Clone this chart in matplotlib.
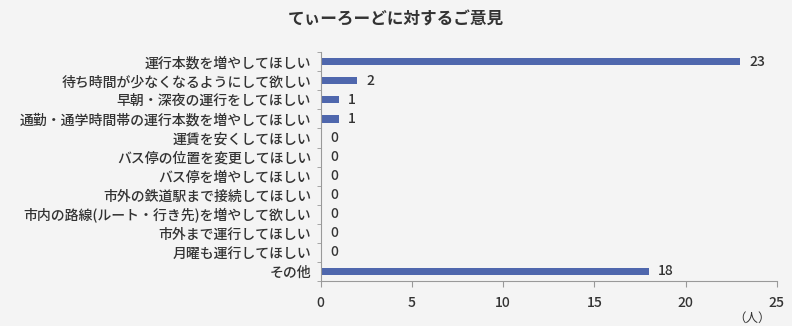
import matplotlib
matplotlib.use('Agg')
import matplotlib.pyplot as plt
import numpy as np

plt.rcParams['font.family'] = ['Noto Sans CJK JP', 'DejaVu Sans']

categories = ['運行本数を増やしてほしい', '待ち時間が少なくなるようにして欲しい', '早朝・深夜の運行をしてほしい',
              '通勤・通学時間帯の運行本数を増やしてほしい', '運賃を安くしてほしい', 'バス停の位置を変更してほしい',
              'バス停を増やしてほしい', '市外の鉄道駅まで接続してほしい', '市内の路線(ルート・行き先)を増やして欲しい',
              '市外まで運行してほしい', '月曜も運行してほしい', 'その他']
values = [23, 2, 1, 1, 0, 0, 0, 0, 0, 0, 0, 18]
xticks = [0, 5, 10, 15, 20, 25]
title = 'てぃーろーどに対するご意見'

fig = plt.figure(figsize=(7.92, 3.26), dpi=100, facecolor='#f4f4f4')
ax = fig.add_axes([0.405, 0.138, 0.576, 0.702])
ax.set_facecolor('none')

y = np.arange(len(categories))
ax.barh(y, values, height=0.38, color='#4f67ad')
for yi, v in zip(y, values):
    ax.text(v + 0.5, yi, str(v), va='center', ha='left', fontsize=10, color='#333333', fontweight='medium')

ax.set_xlim(0, 25)
ax.set_ylim(len(categories) - 0.5, -0.5)
ax.set_yticks(y)
ax.set_yticklabels(categories, fontsize=10, color='#333333', fontweight='medium')
ax.set_yticks(np.arange(-0.5, len(categories)), minor=True)
ax.tick_params(axis='y', which='major', length=0, pad=7)
ax.tick_params(axis='y', which='minor', length=3, color='#999999')
ax.set_xticks(xticks)
ax.set_xticklabels([str(t) for t in xticks], fontsize=10, color='#333333', fontweight='medium')
ax.tick_params(axis='x', length=4, color='#999999', pad=7)

for s in ['top', 'right']:
    ax.spines[s].set_visible(False)
ax.spines['left'].set_color('#999999')
ax.spines['bottom'].set_color('#999999')

fig.text(0.5, 0.94, title, ha='center', va='center', fontsize=12, fontweight='bold', color='#333333')
fig.text(0.95, 0.025, '（人）', ha='center', va='center', fontsize=9, color='#333333')

fig.savefig('out.png', dpi=100, facecolor=fig.get_facecolor())
